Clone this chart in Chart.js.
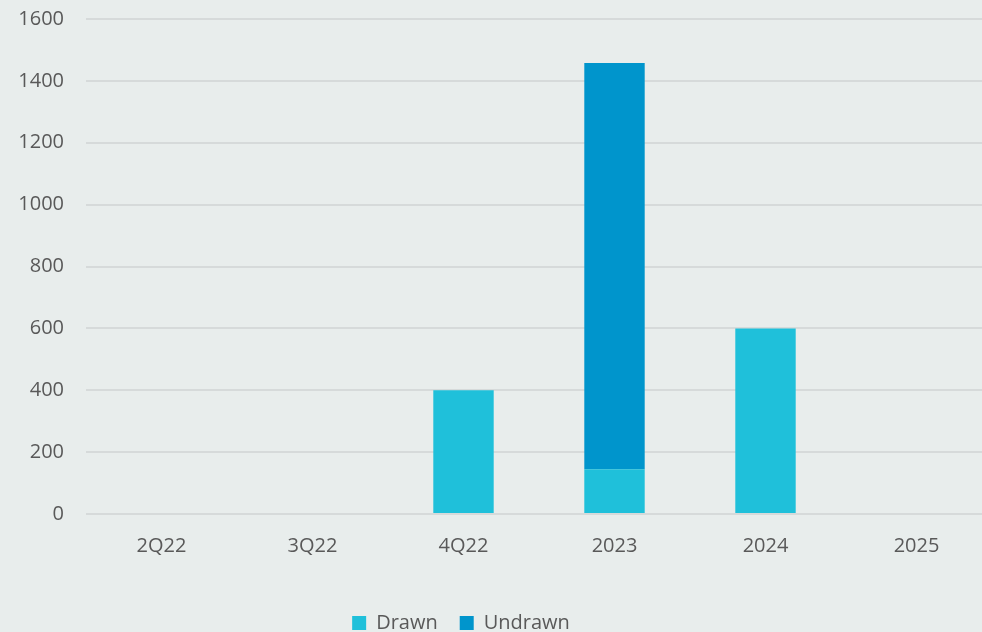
<!DOCTYPE html>
<html>
<head>
<meta charset="utf-8">
<script src="https://cdn.jsdelivr.net/npm/chart.js@4"></script>
<style>
  html, body { margin: 0; padding: 0; background: #E8EDEC; overflow: hidden; }
  #wrap { width: 992px; height: 658px; position: absolute; left: 0; top: -15px; }
</style>
</head>
<body>
<div id="wrap"><canvas id="c"></canvas></div>
<script>
const categories = ["2Q22", "3Q22", "4Q22", "2023", "2024", "2025"];
const drawn = [0, 0, 400, 145, 600, 0];
const undrawn = [0, 0, 0, 1313, 0, 0];
const yTicks = [0, 200, 400, 600, 800, 1000, 1200, 1400, 1600];

const textColor = "#595959";
const fontFamily = "'Open Sans', sans-serif";

const legendShift = {
  id: "legendShift",
  afterLayout(chart) {
    const lg = chart.legend;
    if (lg) { lg.left -= 35; lg.right -= 35; }
  }
};

new Chart(document.getElementById("c"), {
  type: "bar",
  data: {
    labels: categories,
    datasets: [
      { label: "Drawn", data: drawn, backgroundColor: "#1FC0DA", borderWidth: 0 },
      { label: "Undrawn", data: undrawn, backgroundColor: "#0095CC", borderWidth: 0 }
    ]
  },
  plugins: [legendShift],
  options: {
    responsive: true,
    maintainAspectRatio: false,
    animation: false,
    layout: { padding: 0 },
    datasets: { bar: { barPercentage: 0.4, categoryPercentage: 1.0 } },
    plugins: {
      legend: {
        position: "bottom",
        labels: {
          color: textColor,
          font: { family: fontFamily, size: 20 },
          boxWidth: 14,
          boxHeight: 14,
          padding: 22
        }
      },
      tooltip: { enabled: false }
    },
    scales: {
      x: {
        stacked: true,
        grid: { display: false },
        border: { display: false },
        ticks: { color: textColor, font: { family: fontFamily, size: 20 }, padding: 12 },
        afterFit: (axis) => { axis.height += 21; }
      },
      y: {
        stacked: true,
        min: 0,
        max: 1600,
        afterBuildTicks: (axis) => { axis.ticks = yTicks.map(v => ({ value: v })); },
        afterFit: (axis) => { axis.width = 86; },
        grid: { color: "#D6DADA", lineWidth: 2, drawTicks: false },
        border: { display: false },
        ticks: {
          color: textColor,
          font: { family: fontFamily, size: 20 },
          padding: 22,
          callback: (v) => String(v)
        }
      }
    }
  }
});
</script>
</body>
</html>
